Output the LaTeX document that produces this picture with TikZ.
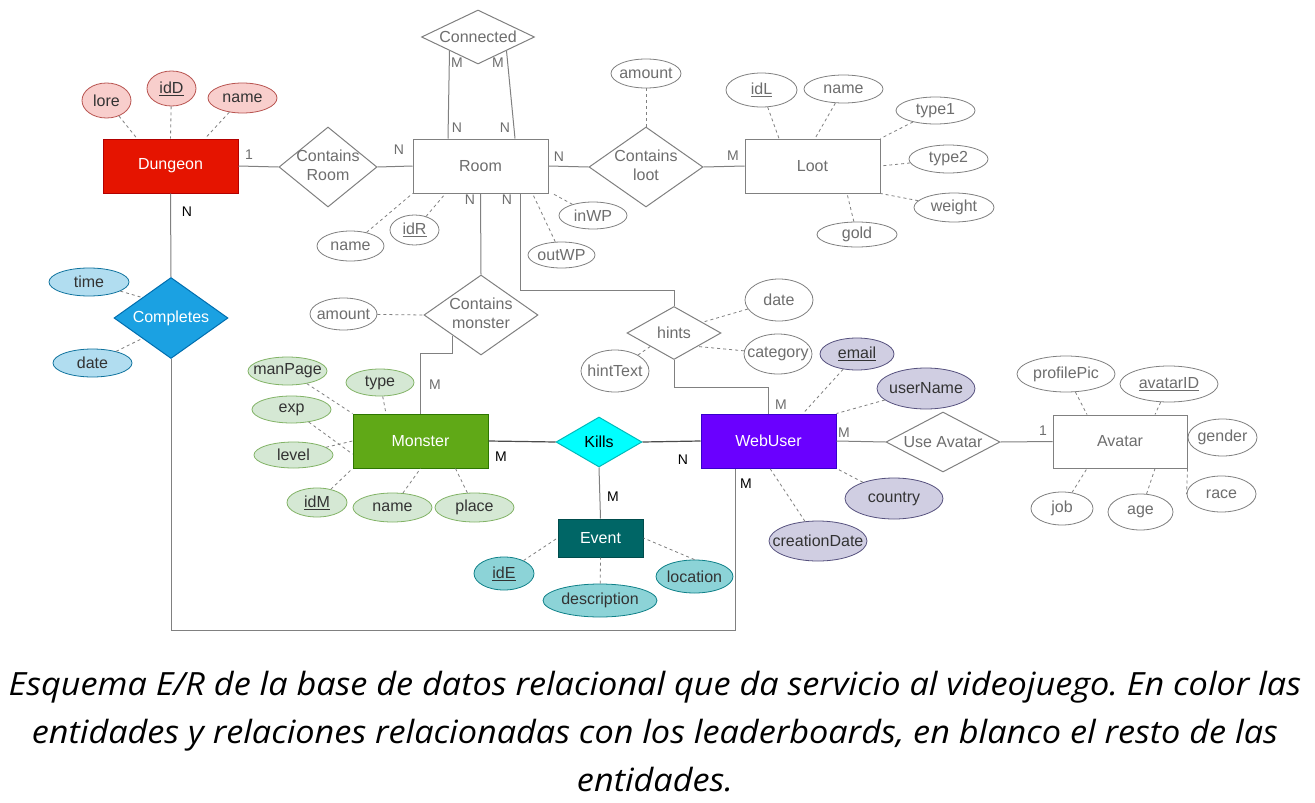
\documentclass[tikz,border=0pt]{standalone}
\usepackage{fontspec}
\setmainfont{Liberation Sans}
\newfontfamily\capfont{Open Sans}
\usetikzlibrary{shapes.geometric,calc}
\definecolor{lg}{HTML}{808080}
\definecolor{tg}{HTML}{6E6E6E}
\definecolor{dk}{HTML}{333333}
\definecolor{dunF}{HTML}{E51400}\definecolor{dunD}{HTML}{B20000}
\definecolor{dunAF}{HTML}{F8CECC}\definecolor{dunAD}{HTML}{B85450}
\definecolor{comF}{HTML}{1BA1E2}\definecolor{comD}{HTML}{006EAF}
\definecolor{comAF}{HTML}{B1DDF0}\definecolor{comAD}{HTML}{10739E}
\definecolor{monF}{HTML}{60A917}\definecolor{monD}{HTML}{2D7600}
\definecolor{monAF}{HTML}{D5E8D4}\definecolor{monAD}{HTML}{82B366}
\definecolor{kilF}{HTML}{00FFFF}\definecolor{kilD}{HTML}{00BBBB}
\definecolor{evF}{HTML}{006666}\definecolor{evD}{HTML}{004C4C}
\definecolor{evAF}{HTML}{8CD3D7}\definecolor{evAD}{HTML}{0E8088}
\definecolor{wuF}{HTML}{6A00FF}\definecolor{wuD}{HTML}{3700CC}
\definecolor{wuAF}{HTML}{D0CEE2}\definecolor{wuAD}{HTML}{56517E}
\newcommand\zt[1]{\makebox[0pt]{#1}}
\newcommand\zz[2]{\makebox[0pt]{\begin{tabular}{@{}c@{}}#1\\#2\end{tabular}}}
\frenchspacing
\begin{document}
\begin{tikzpicture}[x=1pt,y=-1pt,font=\fontsize{16}{19}\selectfont,
 ent/.style={rectangle,draw=lg,line width=1pt,minimum width=135pt,minimum height=54pt,inner sep=0pt,text=tg},
 rel/.style={diamond,draw=lg,line width=1pt,inner sep=0pt,text=tg},
 att/.style={ellipse,draw=lg,line width=0.8pt,inner sep=0pt,text=tg},
 lnk/.style={draw=lg,line width=1pt},
 lnkd/.style={draw=black!70,line width=1.2pt},
 dl/.style={draw=lg,line width=0.8pt,dash pattern=on 3pt off 3pt},
 card/.style={inner sep=0pt,text=tg,font=\fontsize{14}{16}\selectfont},
 cardk/.style={card,text=black},
 dunA/.style={att,fill=dunAF,draw=dunAD,text=dk},
 comA/.style={att,fill=comAF,draw=comAD,text=dk},
 monA/.style={att,fill=monAF,draw=monAD,text=dk},
 evA/.style={att,fill=evAF,draw=evAD,text=dk},
 wuA/.style={att,fill=wuAF,draw=wuAD,text=dk},
 sz/.style 2 args={minimum width=#1pt,minimum height=#2pt},
 capline/.style={anchor=base,inner sep=0pt,xscale=1.07,transform shape},
]
\useasboundingbox (0,0) rectangle (1315,803);
\fill[white] (0,0) rectangle (1315,803);

% ---- entities
\node[ent,fill=dunF,draw=dunD,text=white] (dun) at (170.5,166) {Dungeon};
\node[ent,fill=white] (room) at (480.5,166) {Room};
\node[ent,fill=white] (loot) at (812.5,166) {Loot};
\node[ent,fill=monF,draw=monD,text=white] (mon) at (420.5,441) {Monster};
\node[ent,fill=wuF,draw=wuD,text=white] (wu) at (768.5,441) {WebUser};
\node[ent,fill=white,minimum width=134pt,minimum height=53pt] (av) at (1120,441.5) {Avatar};
\node[ent,fill=evF,draw=evD,text=white,minimum width=85pt,minimum height=38pt] (ev) at (600.5,538) {Event};

% ---- relationships
\node[rel,fill=white,sz={113}{54}] (conn) at (478,37) {\zt{Connected}};
\node[rel,fill=white,sz={98}{80}] (cr) at (328,167) {\zz{Contains}{Room}};
\node[rel,fill=white,sz={114}{80}] (cl) at (646,167) {\zz{Contains}{loot}};
\node[rel,fill=white,sz={114}{80}] (cm) at (481,315) {\zz{Contains}{monster}};
\node[rel,fill=white,sz={94}{53}] (hints) at (674,333) {\zt{hints}};
\node[rel,fill=kilF,draw=kilD,text=black,sz={86}{50}] (kills) at (599,442) {\zt{Kills}};
\node[rel,fill=white,sz={114}{60}] (ua) at (943,442) {\zt{Use Avatar}};
\node[rel,fill=comF,draw=comD,text=white,sz={114}{81}] (comp) at (171,318) {\zt{Completes}};

% ---- relationship connectors
\draw[lnk] (dun.east) -- (cr.west);
\draw[lnk] (cr.east) -- (room.west);
\draw[lnk] ($(conn.south)!0.5!(conn.west)$) -- ([xshift=-32.5pt]room.north);
\draw[lnk] ($(conn.south)!0.5!(conn.east)$) -- ([xshift=34.5pt]room.north);
\draw[lnk] (room.east) -- (cl.west);
\draw[lnk] (cl.east) -- (loot.west);
\draw[lnk] (room.south) -- (cm.north);
\draw[lnk] ([xshift=39.5pt]room.south) -- ++(0,97) -| (hints.north);
\draw[lnk] ($(cm.south)!0.49!(cm.west)$) -- ++(0,18) -| (mon.north);
\draw[lnkd] (mon.east) -- (kills.west);
\draw[lnkd] (kills.east) -- (wu.west);
\draw[lnk] (kills.south) -- (ev.north);
\draw[lnk] (hints.south) -- ++(0,27) -| (wu.north);
\draw[lnk] (wu.east) -- (ua.west);
\draw[lnk] (ua.east) -- (av.west);
\draw[lnk] (dun.south) -- (comp.north);
\draw[lnk] (comp.south) -- ++(0,271) -| ([xshift=-33.5pt]wu.south);

% ---- cardinalities
\node[card] (c1) at (249,155) {1};
\node[card] (c2) at (399,150) {N};
\node[card] (c3) at (457,63) {M};
\node[card] (c4) at (498,63) {M};
\node[card] (c5) at (457,128) {N};
\node[card] (c6) at (505,128) {N};
\node[card] (c7) at (559,157) {N};
\node[card] (c8) at (733,156) {M};
\node[card] (c9) at (470,200) {N};
\node[card] (c10) at (507,200) {N};
\node[card] (c11) at (435,385) {M};
\node[cardk] (c12) at (501,457) {M};
\node[cardk] (c13) at (683,460) {N};
\node[cardk] (c14) at (613,497) {M};
\node[card] (c15) at (781,405) {M};
\node[card] (c16) at (844,433) {M};
\node[cardk] (c17) at (746,484) {M};
\node[card] (c18) at (1043,431) {1};
\node[cardk] (c19) at (187,212) {N};

% ---- Dungeon attributes
\node[dunA,sz={49}{35}] (lore) at (106.5,100.5) {\zt{lore}};
\node[dunA,sz={49}{35}] (idD) at (171.5,88.5) {\zt{\underline{idD}}};
\node[dunA,sz={69}{30}] (dname) at (242.5,98) {\zt{name}};
\draw[dl] (lore) -- ([xshift=-33.5pt]dun.north);
\draw[dl] (idD) -- (dun.north);
\draw[dl] (dname) -- ([xshift=34.5pt]dun.north);

% ---- Room attributes
\node[att,fill=white,sz={67}{30}] (rname) at (350.5,246) {\zt{name}};
\node[att,fill=white,sz={49}{30}] (idR) at (414.5,230) {\zt{\underline{idR}}};
\node[att,fill=white,sz={68}{27}] (inwp) at (593,215.5) {\zt{inWP}};
\node[att,fill=white,sz={67}{26}] (outwp) at (561.5,255) {\zt{outWP}};
\draw[dl] (rname) -- (room.south west);
\draw[dl] (idR) -- ([xshift=-35pt]room.south);
\draw[dl] (inwp) -- ([xshift=4pt]room.south east);
\draw[dl] (outwp) -- ([xshift=52pt]room.south);
\node[att,fill=white,sz={70}{29}] (lamount) at (646,73.5) {\zt{amount}};
\draw[dl] (lamount) -- (cl.north);

% ---- Loot attributes
\node[att,fill=white,sz={71}{34}] (idL) at (761.5,90) {\zt{\underline{idL}}};
\node[att,fill=white,sz={79}{28}] (lname) at (843.5,89) {\zt{name}};
\node[att,fill=white,sz={79}{27}] (type1) at (935.5,110.5) {\zt{type1}};
\node[att,fill=white,sz={79}{28}] (type2) at (948.5,159) {\zt{type2}};
\node[att,fill=white,sz={80}{29}] (weight) at (954,207.5) {\zt{weight}};
\node[att,fill=white,sz={80}{25}] (gold) at (857,234.5) {\zt{gold}};
\draw[dl] (idL) -- ([xshift=-33.5pt]loot.north);
\draw[dl] (lname) -- ([xshift=2.5pt]loot.north);
\draw[dl] (type1) -- (loot.north east);
\draw[dl] (type2) -- (loot.east);
\draw[dl] (weight) -- (loot.south east);
\draw[dl] (gold) -- ([xshift=34.5pt]loot.south);

% ---- Contains monster attribute
\node[att,fill=white,sz={67}{32}] (mamount) at (343.5,314) {\zt{amount}};
\draw[dl] (mamount) -- (cm.west);

% ---- Monster attributes
\node[monA,sz={79}{28}] (manpage) at (287.5,371) {\zt{manPage}};
\node[monA,sz={68}{27}] (mtype) at (380,382.5) {\zt{type}};
\node[monA,sz={79}{27}] (exp) at (291.5,409.5) {\zt{exp}};
\node[monA,sz={79}{26}] (level) at (293.5,455) {\zt{level}};
\node[monA,sz={60}{29}] (idM) at (317,502.5) {\zt{\underline{idM}}};
\node[monA,sz={79}{29}] (mname) at (392.5,507.5) {\zt{name}};
\node[monA,sz={79}{29}] (place) at (474.5,507.5) {\zt{place}};
\draw[dl] (manpage) -- (mon.north west);
\draw[dl] (mtype) -- ([xshift=-34.5pt]mon.north);
\draw[dl] (exp) -- ([yshift=-13pt]mon.west);
\draw[dl] (level) -- (mon.west);
\draw[dl] (idM) -- (mon.south west);
\draw[dl] (mname) -- (mon.south);
\draw[dl] (place) -- ([xshift=35pt]mon.south);

% ---- Completes attributes
\node[comA,sz={80}{28}] (ctime) at (89,282) {\zt{time}};
\node[comA,sz={79}{28}] (cdate) at (92.5,363) {\zt{date}};
\draw[dl] (ctime) -- ($(comp.west)!0.5!(comp.north)$);
\draw[dl] (cdate) -- ($(comp.west)!0.5!(comp.south)$);

% ---- hints attributes
\node[att,fill=white,sz={68}{42}] (hdate) at (779,300) {\zt{date}};
\node[att,fill=white,sz={68}{40}] (category) at (778,354) {\zt{category}};
\node[att,fill=white,sz={68}{42}] (hinttext) at (615,371) {\zt{hintText}};
\draw[dl] (hdate) -- ($(hints.north)!0.6!(hints.east)$);
\draw[dl] (category) -- ($(hints.south)!0.5!(hints.east)$);
\draw[dl] (hinttext) -- ($(hints.south)!0.5!(hints.west)$);

% ---- WebUser attributes
\node[wuA,sz={74}{32}] (email) at (857,354) {\zt{\underline{email}}};
\node[wuA,sz={98}{41}] (uname) at (926,388.5) {\zt{userName}};
\node[wuA,sz={98}{41}] (country) at (894,498.5) {\zt{country}};
\node[wuA,sz={98}{40}] (cdate2) at (818,541) {\zt{creationDate}};
\draw[dl] (email) -- ([xshift=34.5pt]wu.north);
\draw[dl] (uname) -- (wu.north east);
\draw[dl] (country) -- (wu.south east);
\draw[dl] (cdate2) -- ([xshift=1.5pt]wu.south);

% ---- Avatar attributes
\node[att,fill=white,sz={98}{36}] (ppic) at (1066,374) {\zt{profilePic}};
\node[att,fill=white,sz={98}{36}] (avid) at (1169,384) {\zt{\underline{avatarID}}};
\node[att,fill=white,sz={69}{37}] (gender) at (1222.5,437.5) {\zt{gender}};
\node[att,fill=white,sz={69}{36}] (race) at (1221.5,494) {\zt{race}};
\node[att,fill=white,sz={62}{33}] (job) at (1062,508.5) {\zt{job}};
\node[att,fill=white,sz={65}{36}] (age) at (1140.5,512) {\zt{age}};
\draw[dl] (ppic) -- ([xshift=-33pt]av.north);
\draw[dl] (avid) -- ([xshift=35pt]av.north);
\draw[dl] (av.south east) -- (race.west);
\draw[dl] (job) -- ([xshift=-33pt]av.south);
\draw[dl] (age) -- ([xshift=35pt]av.south);

% ---- Event attributes
\node[evA,sz={60}{33}] (idE) at (504,573.5) {\zt{\underline{idE}}};
\node[evA,sz={114}{33}] (desc) at (600,600.5) {\zt{description}};
\node[evA,sz={77}{33}] (loc) at (694.5,576.5) {\zt{location}};
\draw[dl] (idE) -- (ev.west);
\draw[dl] (desc) -- (ev.south);
\draw[dl] (loc.north) -- (ev.east);

% ---- caption
\begin{scope}[font=\capfont\itshape\fontsize{32}{38}\selectfont]
\node[capline] (cap1) at (655,695) {Esquema E/R de la base de datos relacional que da servicio al videojuego. En color las};
\node[capline] (cap2) at (655,743) {entidades y relaciones relacionadas con los leaderboards, en blanco el resto de las};
\node[capline] (cap3) at (655,791) {entidades.};
\end{scope}
\end{tikzpicture}
\end{document}
